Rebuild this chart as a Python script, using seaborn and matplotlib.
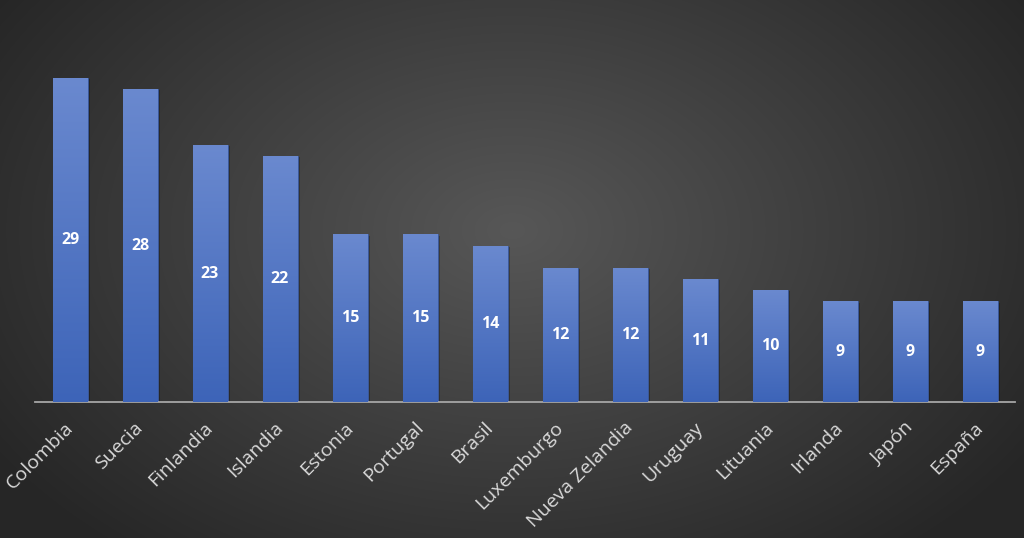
import numpy as np
import pandas as pd
import matplotlib
matplotlib.use("Agg")
import matplotlib.pyplot as plt
import matplotlib.transforms as mtransforms
import seaborn as sns

countries = ["Colombia", "Suecia", "Finlandia", "Islandia", "Estonia", "Portugal", "Brasil",
             "Luxemburgo", "Nueva Zelandia", "Uruguay", "Lituania", "Irlanda", "Japón", "España"]
values = [29, 28, 23, 22, 15, 15, 14, 12, 12, 11, 10, 9, 9, 9]

df = pd.DataFrame({"pais": countries, "valor": values})

sns.set_style("white")
plt.rcParams['font.family'] = ['Open Sans', 'DejaVu Sans']

fig = plt.figure(figsize=(10.24, 5.38), dpi=100)

# radial gradient background
bg = fig.add_axes([0, 0, 1, 1], zorder=-10)
yy, xx = np.mgrid[0:538, 0:1024]
r = np.sqrt(((xx - 512) / 620.0) ** 2 + ((yy - 230) / 420.0) ** 2)
r = np.clip(r, 0, 1)
c0 = np.array([0x57, 0x57, 0x57]) / 255.0
c1 = np.array([0x26, 0x26, 0x26]) / 255.0
img = c0[None, None, :] * (1 - r[..., None]) + c1[None, None, :] * r[..., None]
bg.imshow(img, aspect="auto", extent=[0, 1, 0, 1], origin="upper")
bg.axis("off")

ax = fig.add_axes([35 / 1024, 1 - 402 / 538, 980 / 1024, (402 - 44.6) / 538])
ax.patch.set_alpha(0)
sns.barplot(data=df, x="pais", y="valor", color="#4a6fc0", width=0.5, ax=ax, saturation=1)
ax.set_ylim(0, 32)
ax.set_xlim(-0.5, len(countries) - 0.5)

# gradient fill in bars + shadow
grad = np.linspace(0, 1, 256)[:, None]
top = np.array([0x6a, 0x89, 0xcf]) / 255.0
bot = np.array([0x3d, 0x64, 0xb8]) / 255.0
gimg = top[None, None, :] * (1 - grad[..., None]) + bot[None, None, :] * grad[..., None]
for p in list(ax.patches):
    x0, y0 = p.get_x(), p.get_y()
    w, h = p.get_width(), p.get_height()
    ax.add_patch(plt.Rectangle((x0 + 0.03, y0), w, h - 0.1, facecolor="black", alpha=0.25,
                               edgecolor="none", zorder=1))
    p.set_zorder(2)
    p.set_edgecolor("#3b5a9e")
    p.set_linewidth(0.6)
    im = ax.imshow(gimg, extent=[x0, x0 + w, y0, y0 + h], aspect="auto", zorder=3, origin="upper")
    im.set_clip_path(p)
    ax.text(x0 + w / 2, y0 + h / 2, f"{int(h)}", ha="center", va="center", color="white",
            fontsize=11.5, fontweight="bold", zorder=5)

ax.set_xlim(-0.5, len(countries) - 0.5)
ax.set_ylim(0, 32)
ax.set_xlabel("")
ax.set_ylabel("")
ax.set_yticks([])
for s in ["top", "right", "left"]:
    ax.spines[s].set_visible(False)
ax.spines["bottom"].set_color("#a6a6a6")
ax.spines["bottom"].set_linewidth(1.3)
ax.tick_params(axis="x", length=0, pad=12)
ax.set_xticks(range(len(countries)))
ax.set_xticklabels(countries, rotation=45, ha="right", rotation_mode="anchor",
                   color="#d9d9d9", fontsize=14)
offset = mtransforms.ScaledTranslation(-6 / 100, 0, fig.dpi_scale_trans)
for lbl in ax.get_xticklabels():
    lbl.set_transform(lbl.get_transform() + offset)

fig.savefig("out.png", dpi=100)
